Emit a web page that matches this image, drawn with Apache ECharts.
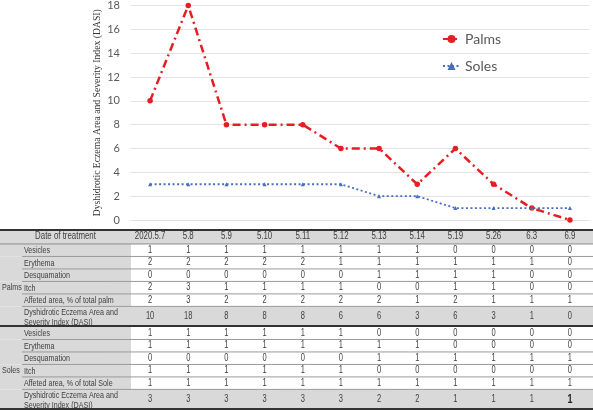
<!DOCTYPE html>
<html>
<head>
<meta charset="utf-8">
<script src="https://cdn.jsdelivr.net/npm/echarts@6/dist/echarts.min.js"></script>
<style>
  html, body { margin: 0; padding: 0; background: #fff; }
  #chart { width: 593px; height: 410px; }
</style>
</head>
<body>
<div id="chart"></div>
<script>
// dates of treatment
var dates = ['2020.5.7', '5.8', '5.9', '5.10', '5.11', '5.12', '5.13', '5.14', '5.19', '5.26', '6.3', '6.9'];

// DASI totals (plotted)
var palmsDasi = [10, 18, 8, 8, 8, 6, 6, 3, 6, 3, 1, 0];
var solesDasi = [3, 3, 3, 3, 3, 3, 2, 2, 1, 1, 1, 1];

// palms table
var palmsVesicles = [1, 1, 1, 1, 1, 1, 1, 1, 0, 0, 0, 0];
var palmsErythema = [2, 2, 2, 2, 2, 1, 1, 1, 1, 1, 1, 0];
var palmsDesquamation = [0, 0, 0, 0, 0, 0, 1, 1, 1, 1, 0, 0];
var palmsItch = [2, 3, 1, 1, 1, 1, 0, 0, 1, 1, 0, 0];
var palmsArea = [2, 3, 2, 2, 2, 2, 2, 1, 2, 1, 1, 1];

// soles table
var solesVesicles = [1, 1, 1, 1, 1, 1, 0, 0, 0, 0, 0, 0];
var solesErythema = [1, 1, 1, 1, 1, 1, 1, 1, 0, 0, 0, 0];
var solesDesquamation = [0, 0, 0, 0, 0, 0, 1, 1, 1, 1, 1, 1];
var solesItch = [1, 1, 1, 1, 1, 1, 0, 0, 0, 0, 0, 0];
var solesArea = [1, 1, 1, 1, 1, 1, 1, 1, 1, 1, 1, 1];

var palmsLabels = ['Vesicles', 'Erythema', 'Desquamation', 'Itch', 'Affeted area, % of total palm',
  'Dyshidrotic Eczema Area and\nSeverity Index (DASI)'];
var solesLabels = ['Vesicles', 'Erythema', 'Desquamation', 'Itch', 'Affeted area, % of total Sole',
  'Dyshidrotic Eczema Area and\nSeverity Index (DASI)'];

var yTitle = 'Dyshidrotic Eczema Area and Severity Index (DASI)';

// ---- build table rows (heights in row units) ----
var tableRows = [];
var pos = 1.2;
tableRows.push({ kind: 'header', label: 'Date of treatment', cells: dates, y0: 0, y1: pos });

function addGroup(name, labels, values) {
  var start = pos;
  var first = tableRows.length;
  labels.forEach(function (lab, i) {
    var last = i === labels.length - 1;
    var h = last ? 1.65 : 1;
    tableRows.push({ kind: last ? 'dasi' : 'row', label: lab, cells: values[i], y0: pos, y1: pos + h, last: last });
    pos += h;
  });
  tableRows[first].group = name;
  tableRows[first].span = [start, pos];
}
addGroup('Palms', palmsLabels, [palmsVesicles, palmsErythema, palmsDesquamation, palmsItch, palmsArea, palmsDasi]);
addGroup('Soles', solesLabels, [solesVesicles, solesErythema, solesDesquamation, solesItch, solesArea, solesDasi]);

// table text is a narrow Arial look: squeeze Liberation Sans horizontally
var tFont = '"Liberation Sans", Arial, sans-serif';
var squeeze = 0.75;
var gray = '#d9d9d9';
var txt = '#404040';

function cellText(x, y, s, size, align, extra) {
  var el = {
    type: 'text', x: x, y: y, z2: 10, scaleX: squeeze,
    style: { text: s, align: align, verticalAlign: 'middle', font: size + 'px ' + tFont, fill: txt, lineHeight: 10.5 }
  };
  if (extra) Object.assign(el.style, extra);
  return el;
}

function renderRow(params, api) {
  var r = tableRows[params.dataIndex];
  var cs = params.coordSys;
  var W = api.getWidth();
  var top = api.coord([0, r.y0])[1];
  var bot = api.coord([0, r.y1])[1];
  var mid = (top + bot) / 2;
  var isLastRow = params.dataIndex === tableRows.length - 1;
  var kids = [
    { type: 'rect', shape: { x: 0, y: top, width: cs.x, height: bot - top }, style: { fill: gray } },
    { type: 'rect', shape: { x: cs.x, y: top, width: W - cs.x, height: bot - top },
      style: { fill: r.kind === 'row' ? '#fff' : gray } }
  ];
  if (r.kind === 'header') {
    kids.push(cellText(cs.x / 2, mid, r.label, 10.5, 'center'));
  } else {
    kids.push(cellText(24, mid + 0.5, r.label, 9.5, 'left'));
  }
  r.cells.forEach(function (v, i) {
    var bold = isLastRow && i === r.cells.length - 1;
    kids.push(cellText(api.coord([i, r.y0])[0], mid, String(v), r.kind === 'header' ? 10.5 : 10, 'center',
      bold ? { fontWeight: 'bold', fill: '#222' } : null));
  });
  if (r.group) {
    var g = cellText(2, api.coord([0, (r.span[0] + r.span[1]) / 2])[1] + 2, r.group, 9.5, 'left');
    g.z2 = 20;
    kids.push(g);
  }
  // rules
  if (r.kind === 'header') {
    kids.push({ type: 'line', z2: 15, shape: { x1: 0, y1: top + 1, x2: W, y2: top + 1 }, style: { stroke: '#333', lineWidth: 2 } });
    kids.push({ type: 'line', z2: 15, shape: { x1: 0, y1: bot, x2: W, y2: bot }, style: { stroke: '#8c8c8c', lineWidth: 1 } });
  } else if (r.last) {
    kids.push({ type: 'line', z2: 15, shape: { x1: 0, y1: bot - 1, x2: W, y2: bot - 1 }, style: { stroke: '#333', lineWidth: 2 } });
  } else {
    kids.push({ type: 'line', z2: 15, shape: { x1: 22, y1: bot, x2: W, y2: bot }, style: { stroke: '#9a9a9a', lineWidth: 1 } });
  }
  return { type: 'group', children: kids };
}

var myChart = echarts.init(document.getElementById('chart'));

var option = {
  animation: false,
  grid: [
    { left: 131, right: 4, top: 5, height: 215 },
    { left: 131, right: 4, top: 229, bottom: 0 }
  ],
  legend: {
    data: ['Palms', 'Soles'],
    orient: 'vertical',
    left: 437,
    top: 27,
    itemWidth: 17,
    itemHeight: 10,
    itemGap: 13,
    textStyle: { fontFamily: 'Lato', fontSize: 14, color: '#595959' }
  },
  xAxis: [
    {
      type: 'category',
      data: dates,
      gridIndex: 0,
      axisLabel: { show: false },
      axisTick: { show: false },
      axisLine: { lineStyle: { color: '#e0e0e0' } }
    },
    { type: 'category', data: dates, gridIndex: 1, show: false }
  ],
  yAxis: [
    {
      type: 'value',
      gridIndex: 0,
      min: 0,
      max: 18,
      interval: 2,
      name: yTitle,
      nameLocation: 'middle',
      nameGap: 29,
      nameMoveOverlap: false,
      nameTextStyle: { fontFamily: '"Liberation Serif", serif', fontSize: 9.7, color: '#333' },
      axisLabel: { color: '#595959', fontFamily: 'Lato', fontSize: 11, margin: 11 },
      axisLine: { show: false },
      axisTick: { show: false },
      splitLine: { lineStyle: { color: '#e3e3e3' } }
    },
    { type: 'value', gridIndex: 1, inverse: true, min: 0, max: pos, show: false }
  ],
  series: [
    {
      name: 'Palms',
      type: 'line',
      data: palmsDasi,
      symbol: 'circle',
      symbolSize: 5.5,
      itemStyle: { color: '#e41e23' },
      lineStyle: { color: '#e41e23', width: 2.5, type: [8, 4, 2, 4] }
    },
    {
      name: 'Soles',
      type: 'line',
      data: solesDasi,
      symbol: 'triangle',
      symbolSize: 4,
      itemStyle: { color: '#4a6ebf' },
      lineStyle: { color: '#4a6ebf', width: 1.8, type: [2, 2.5] }
    },
    {
      type: 'custom',
      xAxisIndex: 1,
      yAxisIndex: 1,
      silent: true,
      renderItem: renderRow,
      data: tableRows.map(function (r) { return [0, r.y0]; })
    }
  ]
};

myChart.setOption(option);
</script>
</body>
</html>
